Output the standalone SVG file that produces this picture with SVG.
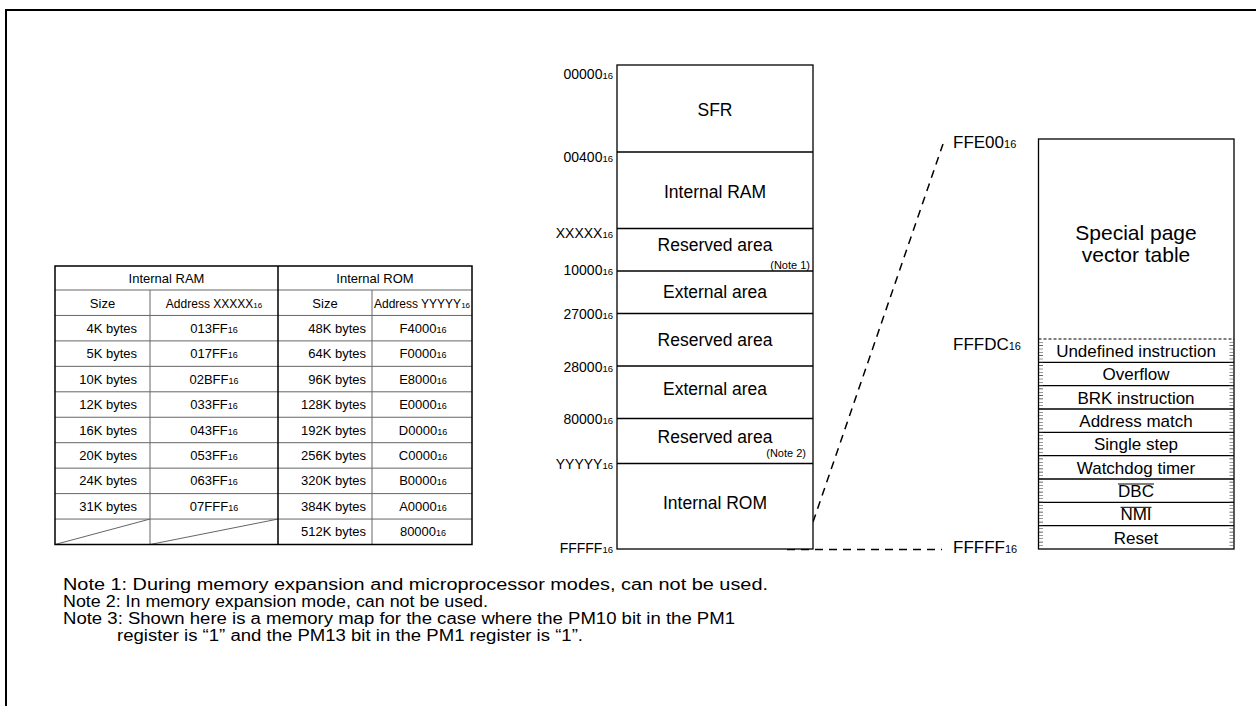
<svg xmlns="http://www.w3.org/2000/svg" width="1256" height="706" viewBox="0 0 1256 706">
<style>
text{font-family:"Liberation Sans",Arial,Helvetica,sans-serif;fill:#000}
.t{font-size:13px}
.c{text-anchor:middle}
.e{text-anchor:end}
.grid{stroke:#666;stroke-width:1;fill:none}
.bold{stroke:#000;stroke-width:1.5;fill:none}
.map{font-size:17.5px;text-anchor:middle}
.addr{font-size:14px;text-anchor:end}
.raddr{font-size:17px}
.note{font-size:11px;text-anchor:end}
.vec{font-size:17px;text-anchor:middle}
.nt{font-size:16px}
.box{fill:#fff;stroke:#000;stroke-width:1.3}
.dash{stroke:#000;stroke-width:1.5;stroke-dasharray:8 6;fill:none}
.tick{stroke:#333;stroke-width:4;stroke-dasharray:0.6 2.73;fill:none}
</style>
<rect x="6" y="10" width="1300" height="800" fill="none" stroke="#000" stroke-width="2"/>

<g id="ram-rom-table">
  <g class="grid">
    <line x1="55" y1="290" x2="472" y2="290"/>
    <line x1="55" y1="315.45" x2="472" y2="315.45"/>
    <line x1="55" y1="340.9" x2="472" y2="340.9"/>
    <line x1="55" y1="366.35" x2="472" y2="366.35"/>
    <line x1="55" y1="391.8" x2="472" y2="391.8"/>
    <line x1="55" y1="417.25" x2="472" y2="417.25"/>
    <line x1="55" y1="442.7" x2="472" y2="442.7"/>
    <line x1="55" y1="468.15" x2="472" y2="468.15"/>
    <line x1="55" y1="493.6" x2="472" y2="493.6"/>
    <line x1="55" y1="519.05" x2="472" y2="519.05"/>
    <line x1="150" y1="290" x2="150" y2="544.5"/>
    <line x1="372" y1="290" x2="372" y2="544.5"/>
    <line x1="55" y1="544.5" x2="150" y2="519.05"/>
    <line x1="150" y1="544.5" x2="278" y2="519.05"/>
  </g>
  <rect x="55" y="266" width="417" height="278.5" class="bold"/>
  <line x1="278" y1="266" x2="278" y2="544.5" class="bold"/>
  <g class="t">
    <text class="c" x="166.5" y="282.5">Internal RAM</text>
    <text class="c" x="375" y="282.5">Internal ROM</text>
    <text class="c" x="102.5" y="307.5">Size</text>
    <text class="c" x="214" y="307.5" font-size="12">Address XXXXX<tspan font-size="8">16</tspan></text>
    <text class="c" x="325" y="307.5">Size</text>
    <text class="c" x="422" y="307.5" font-size="12">Address YYYYY<tspan font-size="8">16</tspan></text>

    <text class="e" x="137" y="332.7">4K bytes</text>
    <text class="e" x="137" y="358.1">5K bytes</text>
    <text class="e" x="137" y="383.6">10K bytes</text>
    <text class="e" x="137" y="409">12K bytes</text>
    <text class="e" x="137" y="434.5">16K bytes</text>
    <text class="e" x="137" y="459.9">20K bytes</text>
    <text class="e" x="137" y="485.4">24K bytes</text>
    <text class="e" x="137" y="510.8">31K bytes</text>

    <text class="c" x="214" y="332.7">013FF<tspan font-size="9">16</tspan></text>
    <text class="c" x="214" y="358.1">017FF<tspan font-size="9">16</tspan></text>
    <text class="c" x="214" y="383.6">02BFF<tspan font-size="9">16</tspan></text>
    <text class="c" x="214" y="409">033FF<tspan font-size="9">16</tspan></text>
    <text class="c" x="214" y="434.5">043FF<tspan font-size="9">16</tspan></text>
    <text class="c" x="214" y="459.9">053FF<tspan font-size="9">16</tspan></text>
    <text class="c" x="214" y="485.4">063FF<tspan font-size="9">16</tspan></text>
    <text class="c" x="214" y="510.8">07FFF<tspan font-size="9">16</tspan></text>

    <text class="e" x="366" y="332.7">48K bytes</text>
    <text class="e" x="366" y="358.1">64K bytes</text>
    <text class="e" x="366" y="383.6">96K bytes</text>
    <text class="e" x="366" y="409">128K bytes</text>
    <text class="e" x="366" y="434.5">192K bytes</text>
    <text class="e" x="366" y="459.9">256K bytes</text>
    <text class="e" x="366" y="485.4">320K bytes</text>
    <text class="e" x="366" y="510.8">384K bytes</text>
    <text class="e" x="366" y="536.3">512K bytes</text>

    <text class="c" x="423" y="332.7">F4000<tspan font-size="9">16</tspan></text>
    <text class="c" x="423" y="358.1">F0000<tspan font-size="9">16</tspan></text>
    <text class="c" x="423" y="383.6">E8000<tspan font-size="9">16</tspan></text>
    <text class="c" x="423" y="409">E0000<tspan font-size="9">16</tspan></text>
    <text class="c" x="423" y="434.5">D0000<tspan font-size="9">16</tspan></text>
    <text class="c" x="423" y="459.9">C0000<tspan font-size="9">16</tspan></text>
    <text class="c" x="423" y="485.4">B0000<tspan font-size="9">16</tspan></text>
    <text class="c" x="423" y="510.8">A0000<tspan font-size="9">16</tspan></text>
    <text class="c" x="423" y="536.3">80000<tspan font-size="9">16</tspan></text>
  </g>
</g>

<g id="connectors">
  <line x1="813" y1="522" x2="943" y2="144" class="dash"/>
  <line x1="787" y1="549.5" x2="942" y2="549.5" class="dash"/>
</g>

<g id="memory-map">
  <rect x="617" y="65" width="196" height="484" class="box"/>
  <g stroke="#000" stroke-width="1.3">
    <line x1="617" y1="152" x2="813" y2="152"/>
    <line x1="617" y1="228.5" x2="813" y2="228.5"/>
    <line x1="617" y1="271" x2="813" y2="271"/>
    <line x1="617" y1="313.5" x2="813" y2="313.5"/>
    <line x1="617" y1="366" x2="813" y2="366"/>
    <line x1="617" y1="418.5" x2="813" y2="418.5"/>
    <line x1="617" y1="463.5" x2="813" y2="463.5"/>
  </g>
  <g id="sfr"><text class="map" x="715" y="116">SFR</text></g>
  <g id="internal-ram"><text class="map" x="715" y="198">Internal RAM</text></g>
  <g id="reserved-1"><text class="map" x="715" y="251">Reserved area</text><text class="note" x="810" y="269">(Note 1)</text></g>
  <g id="external-1"><text class="map" x="715" y="298">External area</text></g>
  <g id="reserved-2"><text class="map" x="715" y="346">Reserved area</text></g>
  <g id="external-2"><text class="map" x="715" y="395">External area</text></g>
  <g id="reserved-3"><text class="map" x="715" y="443">Reserved area</text><text class="note" x="806" y="457">(Note 2)</text></g>
  <g id="internal-rom"><text class="map" x="715" y="509">Internal ROM</text></g>
  <g id="map-addresses">
    <text class="addr" x="613" y="79">00000<tspan font-size="9.5">16</tspan></text>
    <text class="addr" x="613" y="162">00400<tspan font-size="9.5">16</tspan></text>
    <text class="addr" x="613" y="238">XXXXX<tspan font-size="9.5">16</tspan></text>
    <text class="addr" x="613" y="275">10000<tspan font-size="9.5">16</tspan></text>
    <text class="addr" x="613" y="319">27000<tspan font-size="9.5">16</tspan></text>
    <text class="addr" x="613" y="372">28000<tspan font-size="9.5">16</tspan></text>
    <text class="addr" x="613" y="424">80000<tspan font-size="9.5">16</tspan></text>
    <text class="addr" x="613" y="469">YYYYY<tspan font-size="9.5">16</tspan></text>
    <text class="addr" x="613" y="553">FFFFF<tspan font-size="9.5">16</tspan></text>
  </g>
</g>

<g id="vector-table">
  <rect x="1038.5" y="139" width="195.5" height="410" class="box"/>
  <line x1="1038.5" y1="339" x2="1234" y2="339" stroke="#000" stroke-width="1.2" stroke-dasharray="3 2"/>
  <g stroke="#000" stroke-width="1.3">
    <line x1="1038.5" y1="362.3" x2="1234" y2="362.3"/>
    <line x1="1038.5" y1="385.7" x2="1234" y2="385.7"/>
    <line x1="1038.5" y1="409" x2="1234" y2="409"/>
    <line x1="1038.5" y1="432.3" x2="1234" y2="432.3"/>
    <line x1="1038.5" y1="455.7" x2="1234" y2="455.7"/>
    <line x1="1038.5" y1="479" x2="1234" y2="479"/>
    <line x1="1038.5" y1="502.3" x2="1234" y2="502.3"/>
    <line x1="1038.5" y1="525.7" x2="1234" y2="525.7"/>
  </g>
  <line x1="1041" y1="342" x2="1041" y2="548" class="tick"/>
  <line x1="1231.5" y1="342" x2="1231.5" y2="548" class="tick"/>
  <g id="special-page"><text class="c" x="1136" y="240" font-size="21">Special page</text><text class="c" x="1136" y="262" font-size="21">vector table</text></g>
  <g id="v-undef"><text class="vec" x="1136" y="357">Undefined instruction</text></g>
  <g id="v-overflow"><text class="vec" x="1136" y="380.3">Overflow</text></g>
  <g id="v-brk"><text class="vec" x="1136" y="403.7">BRK instruction</text></g>
  <g id="v-addr"><text class="vec" x="1136" y="427">Address match</text></g>
  <g id="v-step"><text class="vec" x="1136" y="450.3">Single step</text></g>
  <g id="v-wdt"><text class="vec" x="1136" y="473.7">Watchdog timer</text></g>
  <g id="v-dbc"><text class="vec" x="1136" y="497">DBC</text><line x1="1118" y1="484" x2="1154" y2="484" stroke="#000" stroke-width="1"/></g>
  <g id="v-nmi"><text class="vec" x="1136" y="520.3">NMI</text><line x1="1120.5" y1="507.3" x2="1151.5" y2="507.3" stroke="#000" stroke-width="1"/></g>
  <g id="v-reset"><text class="vec" x="1136" y="543.7">Reset</text></g>
  <text class="raddr" x="953" y="148">FFE00<tspan font-size="11">16</tspan></text>
  <text class="raddr" x="953" y="350">FFFDC<tspan font-size="11">16</tspan></text>
  <text class="raddr" x="953" y="553">FFFFF<tspan font-size="11">16</tspan></text>
</g>

<g id="notes" class="nt">
  <text x="63" y="590" textLength="705" lengthAdjust="spacingAndGlyphs">Note 1: During memory expansion and microprocessor modes, can not be used.</text>
  <text x="63" y="607" textLength="425" lengthAdjust="spacingAndGlyphs">Note 2: In memory expansion mode, can not be used.</text>
  <text x="63" y="624" textLength="672" lengthAdjust="spacingAndGlyphs">Note 3: Shown here is a memory map for the case where the PM10 bit in the PM1</text>
  <text x="117" y="641" textLength="466" lengthAdjust="spacingAndGlyphs">register is “1” and the PM13 bit in the PM1 register is “1”.</text>
</g>
</svg>
